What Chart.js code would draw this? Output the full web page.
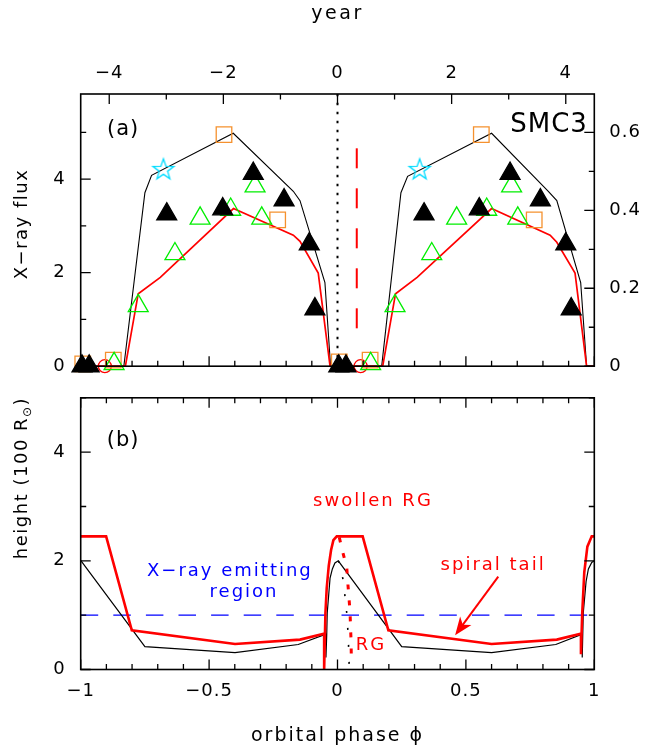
<!DOCTYPE html>
<html>
<head>
<meta charset="utf-8">
<script src="https://cdn.jsdelivr.net/npm/chart.js@4.4.0/dist/chart.umd.min.js"></script>
<style>
  html, body { margin: 0; padding: 0; background: #fff; }
  #wrap { position: relative; width: 665px; height: 752px; }
  #cA { position: absolute; left: 0; top: 0; }
  #cB { position: absolute; left: 0; top: 372px; }
</style>
</head>
<body>
<div id="wrap">
  <canvas id="cA" width="665" height="392" style="width:665px;height:392px"></canvas>
  <canvas id="cB" width="665" height="380" style="width:665px;height:380px"></canvas>
</div>
<script>
// ---- axes / ticks ----
const phaseMajor = [-1, -0.5, 0, 0.5, 1];
const phaseMinor = [-0.9, -0.8, -0.7, -0.6, -0.4, -0.3, -0.2, -0.1, 0.1, 0.2, 0.3, 0.4, 0.6, 0.7, 0.8, 0.9];
const yearTicks = [-4, -2, 0, 2, 4];
const yearMinor = [-3, -1, 1, 3];
const fluxTicks = [0, 2, 4];
const fluxMinor = [1, 3, 5];
const rateTicks = [0, 0.2, 0.4, 0.6];
const rateMinor = [0.1, 0.3, 0.5];
const heightTicks = [0, 2, 4];
const heightMinor = [1, 3, 5];
const fluxMax = 5.82;
const rateMax = 0.6984;   // right axis = flux * 0.12
const heightMax = 5;

// ---- panel (a): model light curves ----
const fluxBlackPhase = [-1, -0.832, -0.750, -0.724, -0.406, -0.172, -0.146, -0.049, -0.027, 0.172, 0.247, 0.273, 0.600, 0.821, 0.854, 0.947, 0.970, 1];
const fluxBlack      = [0, 0, 3.71, 4.08, 4.98, 3.74, 3.54, 1.79, 0, 0, 3.71, 4.06, 4.98, 3.74, 3.54, 1.79, 0, 0];
const fluxRedPhase   = [-1, -0.826, -0.776, -0.690, -0.405, -0.172, -0.146, -0.075, -0.029, 0.176, 0.226, 0.310, 0.600, 0.828, 0.854, 0.925, 0.970, 1];
const fluxRed        = [0, 0, 1.55, 1.90, 3.37, 2.80, 2.67, 1.99, 0, 0, 1.55, 1.90, 3.37, 2.80, 2.65, 1.99, 0, 0];

// ---- panel (a): observations ----
const triPhase = [-0.995, -0.967, -0.665, -0.447, -0.328, -0.208, -0.110, -0.088, 0.005, 0.033, 0.337, 0.552, 0.672, 0.790, 0.889, 0.910];
const triFlux  = [0, 0, 3.25, 3.36, 4.12, 3.55, 2.61, 1.22, 0, 0, 3.25, 3.36, 4.12, 3.55, 2.61, 1.22];
const openTriPhase = [-0.870, -0.776, -0.633, -0.535, -0.416, -0.321, -0.295, 0.129, 0.224, 0.367, 0.464, 0.581, 0.678, 0.702];
const openTriFlux  = [0.05, 1.29, 2.40, 3.16, 3.35, 3.85, 3.16, 0.05, 1.29, 2.40, 3.16, 3.35, 3.85, 3.16];
const squarePhase = [-0.992, -0.873, -0.442, -0.233, 0.007, 0.127, 0.560, 0.766];
const squareFlux  = [0.05, 0.13, 4.95, 3.13, 0.09, 0.13, 4.95, 3.13];
const starPhase = [-0.678, 0.320];
const starFlux  = [4.22, 4.22];
const circlePhase = [-0.906, 0.090];
const circleFlux  = [0, 0];

// vertical markers in (a)
const periPhase = [0, 0];
const periFlux  = [0, fluxMax];
const dashPhase = [0.075, 0.075];
const dashFlux  = [0.81, 4.99];

// ---- panel (b): heights ----
const tailRedPhase = [-1, -0.901, -0.801, -0.399, -0.146, -0.052, -0.052, -0.047, -0.042, -0.034, -0.025, -0.016, -0.003, 0.098, 0.198, 0.600, 0.854, 0.948, 0.948, 0.953, 0.961, 0.973, 0.990, 1];
const tailRed      = [2.45, 2.45, 0.72, 0.47, 0.55, 0.66, 0, 1.04, 1.50, 1.91, 2.20, 2.38, 2.45, 2.45, 0.72, 0.47, 0.55, 0.66, 0.28, 1.04, 1.79, 2.26, 2.45, 2.45];
const tailBlackPhase = [-1, -0.750, -0.399, -0.153, -0.045, -0.045, -0.042, -0.040, -0.034, -0.029, -0.020, -0.010, 0.003, 0.250, 0.600, 0.850, 0.953, 0.953, 0.957, 0.968, 0.977, 0.990, 1];
const tailBlack      = [2.01, 0.42, 0.31, 0.46, 0.65, 0.22, 0.63, 1.04, 1.39, 1.68, 1.85, 1.96, 2.0, 0.42, 0.31, 0.46, 0.65, 0.22, 1.04, 1.62, 1.85, 1.97, 2.0];
const rgRedPhase = [0.007, 0.020, 0.036, 0.040, 0.045, 0.049, 0.051, 0.053, 0.054];
const rgRed      = [2.43, 2.17, 1.88, 1.60, 1.30, 1.04, 0.75, 0.51, 0.12];
const rgBlackPhase = [0.003, 0.010, 0.023, 0.036, 0.042, 0.046];
const rgBlack      = [2.0, 1.92, 1.62, 1.04, 0.60, 0.0];
const emitPhase  = [-1, 1];
const emitHeight = [1, 1];

const FONT = "'DejaVu Sans', sans-serif";
Chart.defaults.font.family = FONT;
Chart.defaults.font.size = 18;
Chart.defaults.color = '#000';

const zip = (xs, ys) => xs.map((x, i) => ({ x: x, y: ys[i] }));
const fmt = v => String(v).replace('-', '\u2212');

function lineSet(xs, ys, color, width, dash) {
    return { data: zip(xs, ys), showLine: true, borderColor: color, borderWidth: width,
             borderDash: dash || [], pointRadius: 0, fill: false, tension: 0 };
}

function markSet(xs, ys, style, radius, fillColor, lineColor) {
    return { data: zip(xs, ys), showLine: false, pointStyle: style, pointRadius: radius,
             backgroundColor: fillColor, borderColor: lineColor, pointBorderWidth: 1.3, clip: false };
}

function makeStar(color, R) {
    const c = document.createElement('canvas');
    const s = Math.ceil(R * 2 + 4);
    c.width = s; c.height = s;
    const g = c.getContext('2d');
    g.strokeStyle = color; g.lineWidth = 1.3;
    g.beginPath();
    for (let i = 0; i < 10; i++) {
        const r = i % 2 ? R * 0.4 : R;
        const a = -Math.PI / 2 + i * Math.PI / 5;
        const px = s / 2 + r * Math.cos(a), py = s / 2 + 1 + r * Math.sin(a);
        if (i) g.lineTo(px, py); else g.moveTo(px, py);
    }
    g.closePath(); g.stroke();
    return c;
}

// frame + inward ticks
function drawFrame(ctx, a) {
    ctx.strokeStyle = '#000';
    ctx.lineWidth = 1.6;
    ctx.strokeRect(a.left, a.top, a.right - a.left, a.bottom - a.top);
}
function tickRow(ctx, scale, major, minor, y0, dir) {
    ctx.lineWidth = 1.3;
    ctx.beginPath();
    major.forEach(v => { const x = scale.getPixelForValue(v); ctx.moveTo(x, y0); ctx.lineTo(x, y0 + dir * 10); });
    minor.forEach(v => { const x = scale.getPixelForValue(v); ctx.moveTo(x, y0); ctx.lineTo(x, y0 + dir * 5.5); });
    ctx.stroke();
}
function tickCol(ctx, scale, major, minor, x0, dir) {
    ctx.lineWidth = 1.3;
    ctx.beginPath();
    major.forEach(v => { const y = scale.getPixelForValue(v); ctx.moveTo(x0, y); ctx.lineTo(x0 + dir * 10, y); });
    minor.forEach(v => { const y = scale.getPixelForValue(v); ctx.moveTo(x0, y); ctx.lineTo(x0 + dir * 5.5, y); });
    ctx.stroke();
}
function text(ctx, str, x, y, size, color, spacing, align) {
    ctx.font = size + 'px ' + FONT;
    ctx.fillStyle = color;
    ctx.letterSpacing = (spacing || 0) + 'px';
    ctx.textAlign = align || 'center';
    ctx.textBaseline = 'middle';
    ctx.fillText(str, x, y);
}

const panelA = {
    id: 'panelA',
    beforeDraw(chart) { chart.ctx.letterSpacing = '1px'; },
    afterDraw(chart) {
        const { ctx, chartArea: a, scales } = chart;
        const sx = scales.x, sy = scales.y;
        ctx.save();
        drawFrame(ctx, a);
        tickRow(ctx, sx, phaseMajor, phaseMinor, a.bottom, -1);
        tickRow(ctx, scales.xt, yearTicks, yearMinor, a.top, 1);
        tickCol(ctx, sy, fluxTicks, fluxMinor, a.left, 1);
        tickCol(ctx, scales.yr, rateTicks, rateMinor, a.right, -1);
        text(ctx, 'year', (a.left + a.right) / 2, 14, 19, '#000', 2.5);
        ctx.save();
        ctx.translate(22, 224);
        ctx.rotate(-Math.PI / 2);
        text(ctx, 'X\u2212ray flux', 0, 0, 18, '#000', 1.5);
        ctx.restore();
        text(ctx, '(a)', sx.getPixelForValue(-0.835), sy.getPixelForValue(5.05), 21, '#000', 1);
        text(ctx, 'SMC3', sx.getPixelForValue(0.975), sy.getPixelForValue(5.15), 26, '#000', 1, 'right');
        ctx.restore();
    }
};

const panelB = {
    id: 'panelB',
    beforeDraw(chart) { chart.ctx.letterSpacing = '1px'; },
    afterDraw(chart) {
        const { ctx, chartArea: a, scales } = chart;
        const sx = scales.x, sy = scales.y;
        ctx.save();
        drawFrame(ctx, a);
        tickRow(ctx, sx, phaseMajor, phaseMinor, a.bottom, -1);
        tickRow(ctx, sx, phaseMajor, phaseMinor, a.top, 1);
        tickCol(ctx, sy, heightTicks, heightMinor, a.left, 1);
        tickCol(ctx, sy, heightTicks, heightMinor, a.right, -1);
        text(ctx, 'orbital phase \u03d5', (a.left + a.right) / 2, 364, 19, '#000', 2);

        // rotated y title with subscript sun symbol
        ctx.save();
        ctx.translate(22, 106);
        ctx.rotate(-Math.PI / 2);
        ctx.letterSpacing = '1.5px';
        const p1 = 'height (100 R', p3 = ')';
        ctx.font = '18px ' + FONT;
        const w1 = ctx.measureText(p1).width, w3 = ctx.measureText(p3).width;
        ctx.font = '12px ' + FONT;
        const w2 = ctx.measureText('\u2299').width;
        const x0 = -(w1 + w2 + w3) / 2;
        text(ctx, p1, x0, 0, 18, '#000', 1.5, 'left');
        text(ctx, '\u2299', x0 + w1, 6, 12, '#000', 1.5, 'left');
        text(ctx, p3, x0 + w1 + w2, 0, 18, '#000', 1.5, 'left');
        ctx.restore();

        text(ctx, '(b)', sx.getPixelForValue(-0.835), sy.getPixelForValue(4.21), 21, '#000', 1);
        text(ctx, 'swollen RG', sx.getPixelForValue(0.138), sy.getPixelForValue(3.10), 18, '#ff0000', 2);
        text(ctx, 'X\u2212ray emitting', sx.getPixelForValue(-0.419), sy.getPixelForValue(1.81), 18, '#0000ff', 2);
        text(ctx, 'region', sx.getPixelForValue(-0.364), sy.getPixelForValue(1.42), 18, '#0000ff', 2);
        text(ctx, 'spiral tail', sx.getPixelForValue(0.606), sy.getPixelForValue(1.91), 18, '#ff0000', 2);
        text(ctx, 'RG', sx.getPixelForValue(0.130), sy.getPixelForValue(0.45), 18, '#ff0000', 2);

        // arrow to the spiral tail
        const ax0 = sx.getPixelForValue(0.626), ay0 = sy.getPixelForValue(1.71);
        const ax1 = sx.getPixelForValue(0.458), ay1 = sy.getPixelForValue(0.63);
        const ang = Math.atan2(ay1 - ay0, ax1 - ax0);
        ctx.strokeStyle = '#ff0000'; ctx.fillStyle = '#ff0000'; ctx.lineWidth = 2;
        ctx.beginPath(); ctx.moveTo(ax0, ay0);
        ctx.lineTo(ax1 - 10 * Math.cos(ang), ay1 - 10 * Math.sin(ang)); ctx.stroke();
        ctx.save();
        ctx.translate(ax1, ay1); ctx.rotate(ang);
        ctx.beginPath();
        ctx.moveTo(0, 0); ctx.lineTo(-18, -7); ctx.lineTo(-13, 0); ctx.lineTo(-18, 7);
        ctx.closePath(); ctx.fill();
        ctx.restore();
        ctx.restore();
    }
};

const starImg = makeStar('#00dcff', 11);

new Chart(document.getElementById('cA'), {
    type: 'scatter',
    data: {
        datasets: [
            markSet(triPhase, triFlux, 'triangle', 11.5, '#000', '#000'),
            markSet(openTriPhase, openTriFlux, 'triangle', 11.5, 'rgba(0,0,0,0)', '#00ee00'),
            markSet(squarePhase, squareFlux, 'rect', 11, 'rgba(0,0,0,0)', '#f5912e'),
            markSet(starPhase, starFlux, starImg, 11, 'rgba(0,0,0,0)', '#00dcff'),
            markSet(circlePhase, circleFlux, 'circle', 6.5, 'rgba(0,0,0,0)', '#ff0000'),
            lineSet(fluxRedPhase, fluxRed, '#ff0000', 1.7),
            lineSet(fluxBlackPhase, fluxBlack, '#000', 1.1),
            lineSet(dashPhase, dashFlux, '#ff0000', 2, [20, 20]),
            lineSet(periPhase, periFlux, '#000', 2, [2.5, 6.5])
        ]
    },
    options: {
        responsive: false, animation: false, events: [],
        layout: { padding: { bottom: 10 } },
        plugins: { legend: { display: false }, tooltip: { enabled: false } },
        scales: {
            x: { type: 'linear', min: -1, max: 1, display: false },
            xt: {
                type: 'linear', axis: 'x', position: 'top', min: -4.5, max: 4.5,
                grid: { display: false, drawTicks: false }, border: { display: false },
                ticks: { padding: 10, autoSkip: false, maxRotation: 0, callback: fmt },
                afterBuildTicks: s => { s.ticks = yearTicks.map(v => ({ value: v })); },
                afterFit: s => { s.height = 94; }
            },
            y: {
                type: 'linear', position: 'left', min: 0, max: fluxMax,
                grid: { display: false, drawTicks: false }, border: { display: false },
                ticks: { padding: 15, autoSkip: false, callback: fmt },
                afterBuildTicks: s => { s.ticks = fluxTicks.map(v => ({ value: v })); },
                afterFit: s => { s.width = 80.7; }
            },
            yr: {
                type: 'linear', axis: 'y', position: 'right', min: 0, max: rateMax,
                grid: { display: false, drawTicks: false }, border: { display: false },
                ticks: { padding: 15, autoSkip: false, callback: fmt },
                afterBuildTicks: s => { s.ticks = rateTicks.map(v => ({ value: v })); },
                afterFit: s => { s.width = 70.7; }
            }
        }
    },
    plugins: [panelA]
});

new Chart(document.getElementById('cB'), {
    type: 'scatter',
    data: {
        datasets: [
            lineSet(rgRedPhase, rgRed, '#ff0000', 3, [5, 11]),
            lineSet(rgBlackPhase, rgBlack, '#000', 1.6, [2, 15]),
            lineSet(tailRedPhase, tailRed, '#ff0000', 2.6),
            lineSet(tailBlackPhase, tailBlack, '#000', 1.2),
            lineSet(emitPhase, emitHeight, '#0000ff', 1.3, [17.5, 15.1])
        ]
    },
    options: {
        responsive: false, animation: false, events: [],
        layout: { padding: { top: 10, right: 70.7 } },
        plugins: { legend: { display: false }, tooltip: { enabled: false } },
        scales: {
            x: {
                type: 'linear', position: 'bottom', min: -1, max: 1,
                grid: { display: false, drawTicks: false }, border: { display: false },
                ticks: { padding: 11, autoSkip: false, maxRotation: 0, callback: fmt },
                afterBuildTicks: s => { s.ticks = phaseMajor.map(v => ({ value: v })); },
                afterFit: s => { s.height = 82.5; }
            },
            y: {
                type: 'linear', position: 'left', min: 0, max: heightMax,
                grid: { display: false, drawTicks: false }, border: { display: false },
                ticks: { padding: 15, autoSkip: false, callback: fmt },
                afterBuildTicks: s => { s.ticks = heightTicks.map(v => ({ value: v })); },
                afterFit: s => { s.width = 80.7; }
            }
        }
    },
    plugins: [panelB]
});
</script>
</body>
</html>
